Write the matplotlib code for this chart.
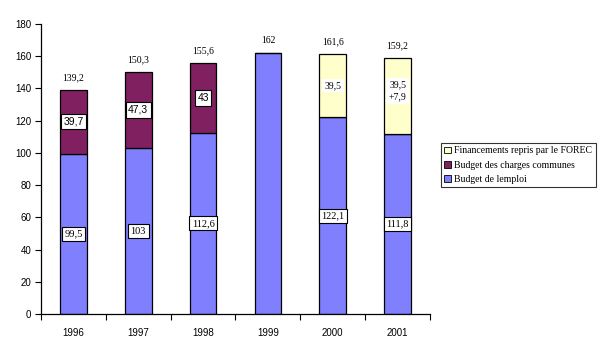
import matplotlib
matplotlib.use("Agg")
import matplotlib.pyplot as plt
from matplotlib.patches import Patch

years = ["1996", "1997", "1998", "1999", "2000", "2001"]
emploi = [99.5, 103, 112.6, 162, 122.1, 111.8]
charges = [39.7, 47.3, 43, 0, 0, 0]
forec = [0, 0, 0, 0, 39.5, 47.4]
totals = ["139,2", "150,3", "155,6", "162", "161,6", "159,2"]
emploi_lbl = ["99,5", "103", "112,6", "", "122,1", "111,8"]
charges_lbl = ["39,7", "47,3", "43", "", "", ""]
forec_lbl = ["", "", "", "", "39,5", "39,5\n+7,9"]
legend_labels = ["Financements repris par le FOREC", "Budget des charges communes", "Budget de lemploi"]

c_emp = "#8080FF"
c_chg = "#802060"
c_for = "#FFFFCC"

fig = plt.figure(figsize=(6.1, 3.53), dpi=100)
ax = fig.add_axes([41/610, 1-314/353, (430-41)/610, (314-24)/353])

x = list(range(len(years)))
w = 0.41
ax.bar(x, emploi, w, color=c_emp, edgecolor="black", linewidth=0.9)
ax.bar(x, charges, w, bottom=emploi, color=c_chg, edgecolor="black", linewidth=0.9)
base2 = [a + b for a, b in zip(emploi, charges)]
for i in x:
    if forec[i] > 0:
        ax.bar(i, forec[i], w, bottom=base2[i], color=c_for, edgecolor="black", linewidth=0.9)

serif = "Liberation Serif"
for i in x:
    tot = base2[i] + forec[i]
    ax.text(i, tot + 7.5, totals[i], ha="center", va="center", fontsize=7, family=serif)
    if emploi_lbl[i]:
        ax.text(i, emploi[i] / 2, emploi_lbl[i], ha="center", va="center", fontsize=7.5, family=serif,
                bbox=dict(boxstyle="square,pad=0.25", fc="white", ec="black", lw=0.8))
    if charges_lbl[i]:
        ax.text(i, emploi[i] + charges[i] / 2, charges_lbl[i], ha="center", va="center", fontsize=7.5,
                family="Liberation Sans",
                bbox=dict(boxstyle="square,pad=0.25", fc="white", ec="black", lw=0.8))
    if forec_lbl[i]:
        off = 3 if "\n" in forec_lbl[i] else 0
        ax.text(i, base2[i] + forec[i] / 2 + off, forec_lbl[i], ha="center", va="center", fontsize=7,
                family=serif, linespacing=1.5,
                bbox=dict(boxstyle="square,pad=0.25", fc="white", ec="none"))

ax.set_xlim(-0.5, 5.5)
ax.set_ylim(0, 180)
ax.set_yticks(range(0, 181, 20))
ax.set_xticks(x)
ax.set_xticklabels(years)
ax.set_xticks([i - 0.5 for i in range(7)], minor=True)
ax.tick_params(axis="x", which="major", length=0, pad=10)
ax.tick_params(axis="x", which="minor", length=4, direction="out", width=0.8)
ax.tick_params(axis="y", length=4, direction="out", width=0.8, pad=3)
for lbl in ax.get_xticklabels() + ax.get_yticklabels():
    lbl.set_family("Liberation Sans")
    lbl.set_fontsize(7)
ax.spines["top"].set_visible(False)
ax.spines["right"].set_visible(False)
ax.spines["left"].set_linewidth(0.9)
ax.spines["bottom"].set_linewidth(0.9)

handles = [Patch(facecolor=c_for, edgecolor="black", lw=0.6),
           Patch(facecolor=c_chg, edgecolor="black", lw=0.6),
           Patch(facecolor=c_emp, edgecolor="black", lw=0.6)]
leg = fig.legend(handles, legend_labels, loc="upper left", bbox_to_anchor=(441/610, 1-143/353),
                 prop={"family": serif, "size": 7}, frameon=True, fancybox=False,
                 handlelength=0.7, handleheight=0.7, handletextpad=0.3, borderpad=0.35,
                 labelspacing=0.55, borderaxespad=0)
leg.get_frame().set_edgecolor("black")
leg.get_frame().set_linewidth(0.8)

fig.savefig("out.png", dpi=100)
